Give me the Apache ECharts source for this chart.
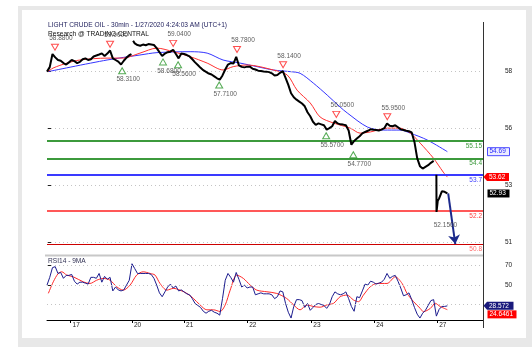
<!DOCTYPE html>
<html><head><meta charset="utf-8">
<script src="https://cdn.jsdelivr.net/npm/echarts@6/dist/echarts.min.js"></script>
<style>
html,body{margin:0;padding:0;background:#fff;}
#frame{position:absolute;left:18px;top:6px;width:514px;height:341px;background:#e8e8e8;}
#inner{position:absolute;left:22px;top:10px;width:504px;height:328px;background:#fff;}
#chart{position:absolute;left:0;top:0;width:532px;height:357px;}
</style></head><body>
<div id="frame"></div><div id="inner"></div><div id="chart"></div>
<script>
// ---------- DATA ----------
const titleText = 'LIGHT CRUDE OIL - 30min - 1/27/2020 4:24:03 AM (UTC+1)';
const subtitleText = 'Research @ TRADING CENTRAL';
const rsiTitle = 'RSI14 - 9MA';
const dayLabels = ['17', '20', '21', '22', '23', '24', '27'];
const dayStartHours = [8.6, 31, 50, 73, 96.4, 119.3, 142.3];
const priceTickValues = [50.88, 53.28, 55.68, 58.08];
const rsiTickValues = [70, 50];
const rsiGridValues = [70, 50, 30];

// price path [hour, price]; null breaks the line at session gaps
const pricePath = [
[0,58.06],[1,58.25],[2,58.80],[3,58.66],[4,58.55],[5,58.52],[6,58.42],[7,58.36],[8,58.45],[9,58.55],
[10,58.50],[11,58.42],[12,58.47],[13,58.58],[14,58.62],[15,58.55],[16,58.58],[17,58.70],[18,58.74],[19,58.78],
[20,58.83],[21,58.72],[22,58.82],[23,58.95],[24,58.62],[25,58.55],[26,58.48],[27,58.36],[28,58.52],[29,58.65],
[30,58.75],[30.8,58.80],[31.1,null],[31.4,59.36],[32,59.25],[33,59.18],[34,59.15],[35,59.20],[36,59.17],[37,59.22],[38,59.20],[39,59.18],
[40,59.05],[41,58.88],[42,58.72],[43,58.82],[44,58.88],[45,58.90],[46,58.98],[47,58.80],[48,58.62],[49,58.82],
[50,58.80],[51,58.76],[52,58.70],[53,58.58],[54,58.45],[55,58.34],[56,58.22],[57,58.12],[58,58.05],[59,57.98],
[60,57.94],[61,57.86],[62,57.78],[63,57.72],[64,57.90],[65,58.15],[66,58.36],[67,58.42],[68,58.40],[69,58.68],
[70,58.32],[71,58.26],[72,58.24],[73,58.27],[74,58.27],[75,58.18],[76,58.15],[77,58.10],[78,58.09],[79,58.07],
[80,58.06],[81,58.04],[82,57.99],[83,57.90],[84,57.92],[85,58.01],[86,58.08],[87,57.80],[88,57.50],[89,57.15],
[90,56.98],[91,56.88],[92,56.80],[93,56.72],[94,56.60],[95,56.35],[96,56.18],[97,55.95],[98,55.82],[99,55.88],
[100,55.84],[101,55.80],[102,55.62],[103,55.68],[104,55.76],[105,55.98],[106,55.88],[107,55.84],[108,55.83],[109,55.80],
[110,55.58],[111,54.98],[112,55.14],[113,55.24],[114,55.34],[115,55.46],[116,55.52],[117,55.57],[118,55.63],[119,55.61],
[120,55.60],[121,55.58],[122,55.62],[123,55.68],[124,55.88],[125,55.78],[126,55.76],[127,55.80],[128,55.72],[129,55.63],
[130,55.60],[131,55.57],[132,55.55],[133,55.50],[134,55.10],[135,54.42],[136,54.08],[137,53.98],[138,54.05],[139,54.12],
[140,54.22],[141,54.30],[141.6,null],[142,53.72],[142.05,52.15],[142.5,52.62],[143,52.72],[144,53.02],[145,53.00],[146,52.93]
];
// moving averages of price [hour, value]
const priceMaFast = [[0.4,58.06],[2.2,58.21],[7.3,58.42],[12,58.55],[21.9,58.63],[27.7,58.63],[33.9,58.84],[40.1,59.05],[46,58.90],[52.2,58.69],[58.4,58.42],[64.2,58.13],[67.9,58.27],[73,58.34],[82.5,58.13],[87.6,57.92],[91.2,57.28],[96,56.74],[99.6,56.15],[104.4,55.90],[110.6,55.68],[114.2,55.47],[117.9,55.52],[124.1,55.68],[128.8,55.68],[132.5,55.47],[136.1,55.05],[140.9,54.42],[144.5,53.83],[146,53.62]];
const priceMaSlow = [[0.4,58.06],[21.9,58.55],[33.9,58.76],[40.1,58.86],[52.2,58.90],[58.4,58.84],[64.2,58.55],[70.4,58.42],[76.6,58.27],[82.5,58.13],[88.7,58.06],[92.3,57.99],[97.1,57.58],[102.2,57.07],[106.9,56.57],[109.5,56.32],[116.8,55.73],[122.6,55.60],[128.8,55.60],[132.5,55.47],[138.7,55.18],[146,54.69]];
// pivot highs / lows [hour, price]
const pivotHighs = [[2.9,58.88],[23,59.00],[46,59.04],[69.3,58.78],[86.1,58.14],[105.5,56.05],[124.1,55.95]];
const pivotLows = [[27.4,58.31],[42.3,58.68],[47.8,58.56],[62.8,57.71],[101.8,55.57],[111.7,54.77]];
const extraLowLabel = [[142.4,52.15]];
// support / resistance levels
const levels = [55.15, 54.4, 53.7, 52.2, 50.8];
const levelLabels = ['55.15', '54.4', '53.7', '52.2', '50.8'];
const projectionPath = [[146.3,52.93],[148.9,50.8]];
// last values shown on the axis
const lastSlowMa = 54.69, lastFastMa = 53.62, lastClose = 52.93;
const lastRsi = 28.572, lastRsiMa = 24.6461;
// RSI hourly (index = hour)
const rsi = [50,58,68,69,62,63,57,60,60,61, 54,51,53,53,52,51,58,58,57,62, 53,59,56,58,44,48,45,44,45,50,
 55,72,67,62,62,62,62,62,61,57, 50,42,38,43,48,51,47,49,44,45, 43,41,40,36,31,29,27,23,21,23,
 24,22,21,19,36,55,62,58,53,63, 56,48,50,47,48,48,40,41,42,41, 41,41,40,36,38,44,43,31,22,16,
 28,35,35,34,27,31,24,27,30,31, 30,29,26,30,38,43,41,40,41,43, 36,28,23,38,37,44,51,50,54,53,
 51,52,53,56,62,57,59,60,54,47, 39,40,42,35,27,20,16,21,24,29, 34,35,18,25,28,28,28.57];
const rsiMa = [[0.5,41.5],[2.3,53.4],[4.1,62],[5.4,63.7],[7.2,60.3],[9.6,58.5],[13.2,53.4],[15.7,51.7],[18.1,55],[20.5,56.9],[23,55],[25.4,48.3],[27.8,44.8],[30.3,50],[32.7,60.3],[35.1,63.7],[37.6,62],[39.4,60.3],[41.2,51.7],[43.7,44.8],[46.1,46.6],[48.5,44.8],[51,41.4],[53.4,36.2],[55.8,29.6],[58.3,24.5],[60.7,24.5],[63.1,22.8],[65,29.6],[66.8,44.8],[69.2,60.3],[71.6,56.9],[74.1,50],[76.5,44.8],[80.2,43.1],[83.8,41.4],[87.4,36.2],[89.9,29.6],[92.3,24.5],[94.8,29.6],[97.2,27.9],[99.6,27.2],[102.1,29.6],[104.5,31.2],[106.9,38],[109.4,39.7],[111.8,34.6],[113.6,32.9],[115.4,39.7],[117.9,48.3],[120.3,51.7],[124,51.7],[127,58.5],[129.5,51.7],[131.3,41.4],[133.7,32.9],[136.1,26],[137.3,22.6],[139.8,26],[141.6,31.2],[143.4,27.9],[146,24.65]];

// ---------- STYLE ----------
const FONT = '"Liberation Sans", Arial, sans-serif';
const levelColors = ['#3c9a3c', '#3c9a3c', '#3a3aff', '#ff2020', '#cc0000'];
const levelWidths = [2, 2, 2, 1.5, 1];
const levelLabelColors = ['#3c9a3c', '#3c9a3c', '#4040ff', '#ff4040', '#ff6a6a'];
const X_MAX = 159;

const chart = echarts.init(document.getElementById('chart'));

const dotted = {color: '#c4c4c4', width: 1, type: [1, 3]};
const levelMarks = levels.map((v, i) => ({
  yAxis: v,
  lineStyle: {color: levelColors[i], width: levelWidths[i], type: 'solid'},
  label: {show: true, position: 'insideEndBottom', formatter: levelLabels[i], color: levelLabelColors[i],
          fontSize: 6.5, fontFamily: FONT, distance: [1, 1.5]}
}));
const gridMarks = priceTickValues.map(v => ({yAxis: v, lineStyle: dotted, label: {show: false}}));

function nearestLabel(v, vals, labels) {
  let bi = -1, bd = 1e9;
  vals.forEach((t, i) => { const d = Math.abs(t - v); if (d < bd) { bd = d; bi = i; } });
  return bd < 0.01 ? labels[bi] : '';
}

const option = {
  animation: false,
  textStyle: {fontFamily: FONT},
  grid: [
    {left: 47, top: 22, width: 436, height: 228},
    {left: 47, top: 256, width: 436, height: 64}
  ],
  xAxis: [
    {type: 'value', gridIndex: 0, min: 0, max: X_MAX, show: false},
    {type: 'value', gridIndex: 1, min: 0, max: X_MAX,
     axisLine: {show: true, lineStyle: {color: '#000', width: 1}},
     axisTick: {show: true, customValues: dayStartHours, length: 3, lineStyle: {color: '#000'}},
     axisLabel: {show: true, customValues: dayStartHours,
       formatter: v => nearestLabel(v, dayStartHours, dayLabels),
       align: 'left', margin: 2, padding: [0, 0, 0, 2], fontSize: 6.5, color: '#222', fontFamily: FONT},
     splitLine: {show: false}}
  ],
  yAxis: [
    {type: 'value', gridIndex: 0, position: 'right', min: 50.55, max: 60.15,
     axisLine: {show: false},
     axisTick: {show: true, customValues: priceTickValues, length: 4, lineStyle: {color: '#222'}},
     axisLabel: {show: true, customValues: priceTickValues, formatter: v => String(Math.round(v)),
       margin: 22, fontSize: 6.5, color: '#222', fontFamily: FONT},
     splitLine: {show: false}},
    {type: 'value', gridIndex: 1, position: 'right', min: 14, max: 80,
     axisLine: {show: false},
     axisTick: {show: true, customValues: rsiTickValues, length: 4, lineStyle: {color: '#222'}},
     axisLabel: {show: true, customValues: rsiTickValues, margin: 22, fontSize: 6.5, color: '#222', fontFamily: FONT},
     splitLine: {show: false}}
  ],
  series: [
    {name: 'slowMA', type: 'line', xAxisIndex: 0, yAxisIndex: 0, data: priceMaSlow, smooth: 0.3,
     symbol: 'none', lineStyle: {color: '#3434ff', width: 1}, z: 2, silent: true,
     markLine: {silent: true, symbol: ['none', 'none'], animation: false, data: gridMarks.concat(levelMarks)}},
    {name: 'fastMA', type: 'line', xAxisIndex: 0, yAxisIndex: 0, data: priceMaFast, smooth: 0.3,
     symbol: 'none', lineStyle: {color: '#ff3030', width: 1}, z: 3, silent: true},
    {name: 'price', type: 'line', xAxisIndex: 0, yAxisIndex: 0, data: pricePath,
     symbol: 'none', lineStyle: {color: '#000', width: 2}, z: 5, silent: true, connectNulls: false,
     markLine: {silent: true, symbol: ['none', 'arrow'], symbolSize: 9, animation: false,
       lineStyle: {color: '#1c2a8c', width: 2, type: 'solid'}, label: {show: false},
       data: [[{coord: projectionPath[0]}, {coord: projectionPath[1]}]]}},
    {name: 'highs', type: 'scatter', xAxisIndex: 0, yAxisIndex: 0, data: pivotHighs,
     symbol: 'triangle', symbolRotate: 180, symbolSize: [7, 6], symbolOffset: [0, -5],
     itemStyle: {color: '#fff', borderColor: '#ff2020', borderWidth: 1}, z: 6, silent: true},
    {name: 'lows', type: 'scatter', xAxisIndex: 0, yAxisIndex: 0, data: pivotLows,
     symbol: 'triangle', symbolSize: [7, 6], symbolOffset: [0, 5],
     itemStyle: {color: '#fff', borderColor: '#2a962a', borderWidth: 1}, z: 6, silent: true},
    {name: 'pivotLabels', type: 'scatter', xAxisIndex: 0, yAxisIndex: 0, symbolSize: 0.1,
     itemStyle: {color: 'rgba(0,0,0,0)'}, z: 7, silent: true,
     data: pivotHighs.map(p => ({value: p, label: {offset: [6, -14]}}))
       .concat(pivotLows.map(p => ({value: p, label: {offset: [6, 14]}})))
       .concat(extraLowLabel.map(p => ({value: p, label: {offset: [8, 13]}}))),
     label: {show: true, position: 'inside', formatter: p => p.value[1].toFixed(4),
       fontSize: 6.5, color: '#333', fontFamily: FONT}},
    {name: 'rsi', type: 'line', xAxisIndex: 1, yAxisIndex: 1, data: rsi.map((v, i) => [i, v]),
     symbol: 'none', lineStyle: {color: '#1c1c8e', width: 1}, z: 4, silent: true,
     markLine: {silent: true, symbol: ['none', 'none'], animation: false,
       data: rsiGridValues.map(v => ({yAxis: v, lineStyle: dotted, label: {show: false}}))}},
    {name: 'rsiMA', type: 'line', xAxisIndex: 1, yAxisIndex: 1, data: rsiMa, smooth: 0.3,
     symbol: 'none', lineStyle: {color: '#ff2828', width: 1}, z: 3, silent: true}
  ]
};
chart.setOption(option);

// ---------- decorations & axis value badges ----------
const yP = v => chart.convertToPixel({yAxisIndex: 0}, v);
const yR = v => chart.convertToPixel({yAxisIndex: 1}, v);
const AX = 483.5;
function badge(y, text, fill, stroke, color, tip, x0, x1) {
  const h = 4;
  const pts = tip ? [[AX, y], [x0, y - h], [x1, y - h], [x1, y + h], [x0, y + h]]
                  : [[x0, y - h], [x1, y - h], [x1, y + h], [x0, y + h]];
  return [
    {type: 'polygon', shape: {points: pts}, style: {fill: fill, stroke: stroke, lineWidth: stroke ? 1 : 0}, z: 20},
    {type: 'text', x: x0 + 2, y: y, style: {text: text, fill: color, font: '6.5px ' + FONT,
      textVerticalAlign: 'middle', textAlign: 'left'}, z: 21}
  ];
}
const rsiBadgeY = yR(lastRsi);
let rsiMaBadgeY = yR(lastRsiMa);
if (rsiMaBadgeY < rsiBadgeY + 8.5) rsiMaBadgeY = rsiBadgeY + 8.5;

const elements = [
  {type: 'line', shape: {x1: AX, y1: 22, x2: AX, y2: 328}, style: {stroke: '#333', lineWidth: 1}, z: 10},
  {type: 'rect', shape: {x: 45, y: 254.5, width: 438, height: 2}, style: {fill: '#c8c8c8'}, z: 10},
  {type: 'text', x: 48, y: 25.3, style: {text: titleText, fill: '#23235f', font: '6.6px ' + FONT, textVerticalAlign: 'middle'}, z: 10},
  {type: 'text', x: 48, y: 34, style: {text: subtitleText, fill: '#111', font: '6.6px ' + FONT, textVerticalAlign: 'middle'}, z: 10},
  {type: 'text', x: 48, y: 260.7, style: {text: rsiTitle, fill: '#333355', font: '6.6px ' + FONT, textVerticalAlign: 'middle'}, z: 10}
].concat(
  badge(yP(lastSlowMa), lastSlowMa.toFixed(2), '#ececff', '#4a4aff', '#2a2aff', false, 487.5, 509.5),
  badge(yP(lastFastMa), lastFastMa.toFixed(2), '#ff0000', null, '#fff', true, 487, 509),
  badge(yP(lastClose), lastClose.toFixed(2), '#000', null, '#fff', false, 487.5, 509.5),
  badge(rsiBadgeY, String(lastRsi), '#1a1a7c', null, '#fff', true, 487, 513.5),
  badge(rsiMaBadgeY, String(lastRsiMa), '#ff0000', null, '#fff', false, 487.5, 516.5)
);
chart.setOption({graphic: {elements: elements}});
</script>
</body></html>
